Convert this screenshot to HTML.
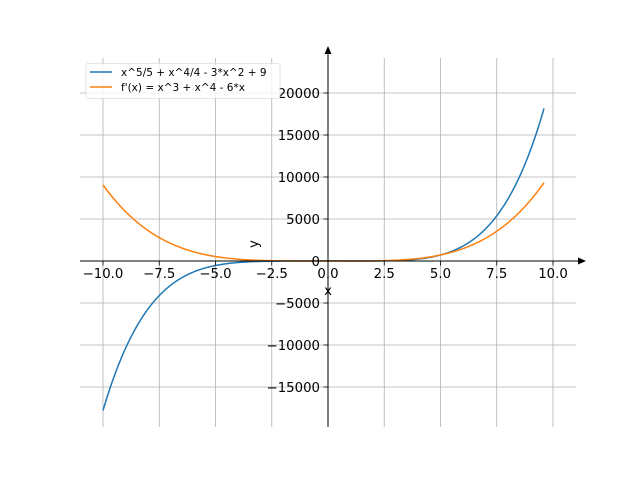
<!DOCTYPE html>
<html><head><meta charset="utf-8"><style>
html,body{margin:0;padding:0;background:#fff;width:640px;height:480px;overflow:hidden}
text{font-family:"DejaVu Sans","Liberation Sans",sans-serif;font-size:13.3px;fill:#000}
</style></head><body>
<svg id="s" width="640" height="480" xmlns="http://www.w3.org/2000/svg">
<g id="grid" stroke="#b0b0b0" stroke-width="0.8"></g>
<g id="curves" fill="none" stroke-width="1.5"></g>
<g id="axes"></g>
<g id="legend">
<rect x="86" y="63.5" width="194" height="35" fill="#fff" fill-opacity="0.8" stroke="#ddd" stroke-width="0.8" rx="2"/>
<line x1="90" y1="72" x2="112" y2="72" stroke="#1f77b4" stroke-width="1.5"/>
<line x1="90" y1="87" x2="112" y2="87" stroke="#ff7f0e" stroke-width="1.5"/>
<text x="121" y="76" style="font-size:10.5px">x^5/5 + x^4/4 - 3*x^2 + 9</text>
<text x="121" y="91" style="font-size:10.5px">f'(x) = x^3 + x^4 - 6*x</text>
</g>
</svg>
<script>
const X=x=>328+22.5*x, Y=y=>261-0.0084*y;
const g=document.getElementById('grid'),a=document.getElementById('axes'),c=document.getElementById('curves');
let h='',ax='';
const xt=[-10,-7.5,-5,-2.5,0,2.5,5,7.5,10];
for(const t of xt){const px=X(t);h+=`<line x1="${px}" y1="58" x2="${px}" y2="427"/>`;
ax+=`<line x1="${px}" y1="261" x2="${px}" y2="265.5" stroke="#000" stroke-width="0.8"/>`;
ax+=`<text x="${px}" y="278" text-anchor="middle">${t<0?'\u2212':''}${Math.abs(t).toFixed(1)}</text>`;}
const yt=[-15000,-10000,-5000,0,5000,10000,15000,20000];
for(const t of yt){const py=Y(t);h+=`<line x1="80" y1="${py}" x2="576" y2="${py}"/>`;
ax+=`<line x1="323.5" y1="${py}" x2="328" y2="${py}" stroke="#000" stroke-width="0.8"/>`;
ax+=`<text x="320" y="${py+5}" text-anchor="end">${t<0?'\u2212':''}${Math.abs(t)}</text>`;}
g.innerHTML=h;
ax+=`<line x1="80" y1="261" x2="580" y2="261" stroke="#000" stroke-width="1"/><path d="M586,261 L578,257.5 L578,264.5Z" fill="#000"/>`;
ax+=`<line x1="328" y1="427" x2="328" y2="52" stroke="#000" stroke-width="1"/><path d="M328,46 L324.5,54 L331.5,54Z" fill="#000"/>`;
ax+=`<text x="328" y="295" text-anchor="middle">x</text><text transform="translate(258,244) rotate(-90)" text-anchor="middle">y</text>`;
a.innerHTML=ax;
let p1='',p2='';
for(let i=0;i<=400;i++){const x=-10+19.6*i/400;
const f=x**5/5+x**4/4-3*x*x+9, d=x**3+x**4-6*x;
p1+=(i?'L':'M')+X(x).toFixed(2)+','+Y(f).toFixed(2);p2+=(i?'L':'M')+X(x).toFixed(2)+','+Y(d).toFixed(2);}
c.innerHTML=`<path d="${p1}" stroke="#1f77b4"/><path d="${p2}" stroke="#ff7f0e"/>`;
</script>
</body></html>
